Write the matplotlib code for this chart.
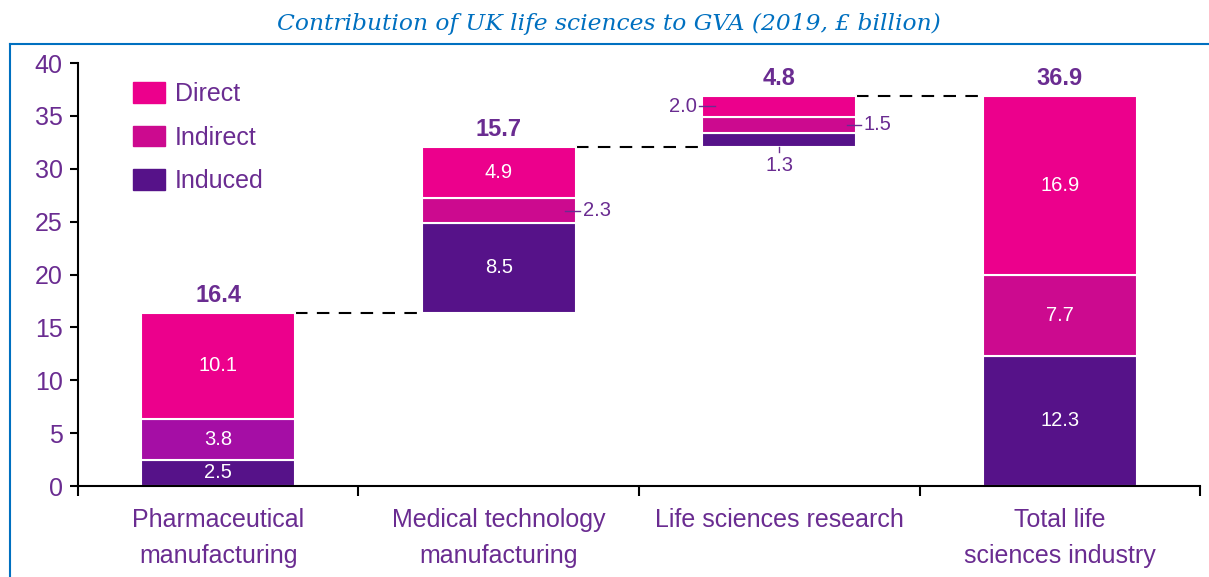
import matplotlib.pyplot as plt
import numpy as np
from matplotlib.lines import Line2D
from matplotlib.patches import Patch

plt.rcParams['font.family'] = ['Liberation Sans', 'DejaVu Sans']

# данные
categories = ["Pharmaceutical\nmanufacturing", "Medical technology\nmanufacturing",
              "Life sciences research", "Total life\nsciences industry"]
induced = [2.5, 8.5, 1.3, 12.3]
indirect = [3.8, 2.3, 1.5, 7.7]
direct = [10.1, 4.9, 2.0, 16.9]
totals = [16.4, 15.7, 4.8, 36.9]

# цвета
c_direct = '#EC008C'
c_indirect = '#CC0A8F'
c_indirect_pharma = '#A50EA5'
c_induced = '#561289'
purple = '#6A2C91'

fig = plt.figure(figsize=(12.09, 5.77), dpi=100)
ax = fig.add_axes([0.0645, 0.1577, 0.9281, 0.7331])

x = np.arange(len(categories))
# водопад: первые три идут друг за другом, последний с нуля
bases = np.array([0, totals[0], totals[0] + totals[1], 0])
w = 0.55

ind_colors = [c_indirect_pharma, c_indirect, c_indirect, c_indirect]
ax.bar(x, induced, w, bottom=bases, color=c_induced, edgecolor='white', linewidth=1.5, zorder=2)
ax.bar(x, indirect, w, bottom=bases + np.array(induced), color=ind_colors,
       edgecolor='white', linewidth=1.5, zorder=2)
ax.bar(x, direct, w, bottom=bases + np.array(induced) + np.array(indirect),
       color=c_direct, edgecolor='white', linewidth=1.5, zorder=2)

# пунктирные соединения
tops = bases + np.array(totals)
for i in range(3):
    ax.plot([x[i] + w / 2, x[i + 1] - w / 2], [tops[i], tops[i]],
            color='black', linestyle=(0, (6, 4.5)), linewidth=1.5, zorder=1)

# итоги сверху
for i in range(4):
    ax.text(x[i], tops[i] + 0.55, f"{totals[i]:.1f}", ha='center', va='bottom',
            fontsize=17, fontweight='bold', color=purple)

# подписи внутри столбцов
segs = [induced, indirect, direct]
for i in range(4):
    b = bases[i]
    for s in segs:
        v = s[i]
        mid = b + v / 2
        b += v
        if v >= 2.5:
            ax.text(x[i], mid, f"{v:.1f}", ha='center', va='center', fontsize=14.5, color='white')

# мелкие подписи снаружи
mid_med = bases[1] + induced[1] + indirect[1] / 2
ax.plot([x[1] + 0.237, x[1] + 0.29], [mid_med, mid_med], color=purple, linewidth=1)
ax.text(x[1] + 0.3, mid_med, f"{indirect[1]:.1f}", ha='left', va='center', fontsize=14.5, color=purple)

mid_dir = bases[2] + induced[2] + indirect[2] + direct[2] / 2
ax.plot([x[2] - 0.285, x[2] - 0.23], [mid_dir, mid_dir], color=purple, linewidth=1)
ax.text(x[2] - 0.295, mid_dir, f"{direct[2]:.1f}", ha='right', va='center', fontsize=14.5, color=purple)

mid_ind = bases[2] + induced[2] + indirect[2] / 2
ax.plot([x[2] + 0.24, x[2] + 0.29], [mid_ind, mid_ind], color=purple, linewidth=1)
ax.text(x[2] + 0.3, mid_ind, f"{indirect[2]:.1f}", ha='left', va='center', fontsize=14.5, color=purple)

ax.plot([x[2], x[2]], [bases[2], bases[2] - 0.5], color=purple, linewidth=1)
ax.text(x[2], bases[2] - 0.9, f"{induced[2]:.1f}", ha='center', va='top', fontsize=14.5, color=purple)

# оси
ax.set_xlim(-0.5, 3.5)
ax.set_ylim(0, 40)
ax.set_yticks(np.arange(0, 41, 5))
ax.tick_params(axis='y', length=6, width=1.5, labelsize=18, labelcolor=purple, pad=5)
ax.set_xticks(x)
ax.set_xticklabels(categories, fontsize=18, color=purple, linespacing=1.6)
ax.tick_params(axis='x', which='major', length=0, pad=16)
ax.set_xticks(np.arange(-0.5, 4, 1), minor=True)
ax.tick_params(axis='x', which='minor', length=7, width=1.5, direction='out')
for sp in ['top', 'right']:
    ax.spines[sp].set_visible(False)
for sp in ['left', 'bottom']:
    ax.spines[sp].set_linewidth(1.5)

# легенда
handles = [Patch(color=c_direct), Patch(color=c_indirect), Patch(color=c_induced)]
leg = ax.legend(handles, ['Direct', 'Indirect', 'Induced'], loc='upper left',
                bbox_to_anchor=(0.049, 0.955), frameon=False, fontsize=18,
                handlelength=1.28, handleheight=0.88, handletextpad=0.4,
                labelspacing=0.78, borderpad=0, borderaxespad=0)
for t in leg.get_texts():
    t.set_color(purple)

# синяя рамка и заголовок
blue = '#0070C0'
fig.add_artist(Line2D([0.0083, 1.0], [0.9237, 0.9237], color=blue, linewidth=1.5))
fig.add_artist(Line2D([0.0083, 0.0083], [0.0, 0.9237], color=blue, linewidth=1.5))
fig.text(0.504, 0.958, "Contribution of UK life sciences to GVA (2019, £ billion)",
         ha='center', va='center', fontsize=16.8, style='italic', color=blue,
         family=['DejaVu Serif'])

fig.savefig('out.png', dpi=100)
